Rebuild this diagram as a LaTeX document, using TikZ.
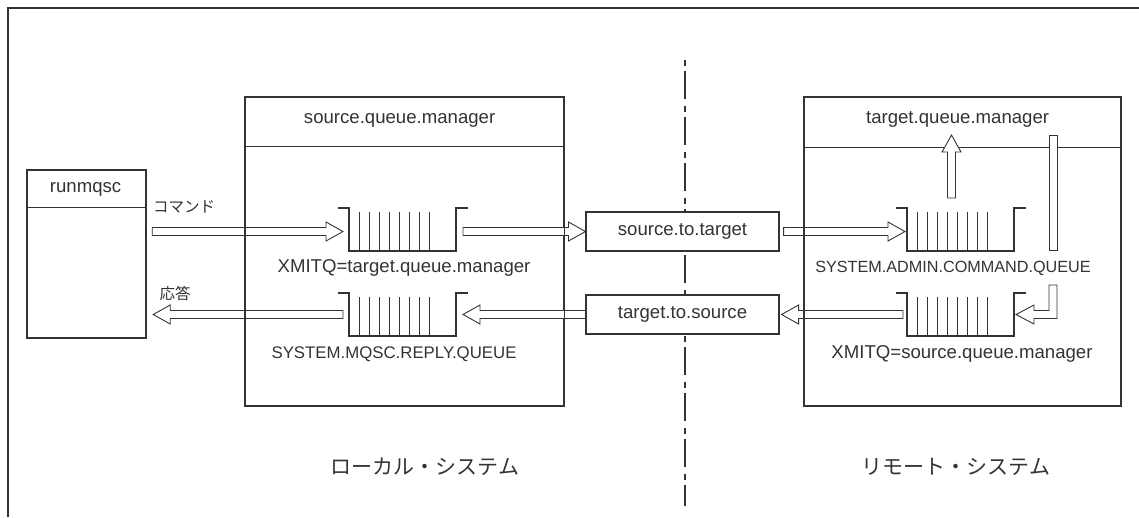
\documentclass[tikz,border=0pt]{standalone}
\usepackage{fontspec}
\setmainfont{Liberation Sans}
\newfontfamily\jpfont{Noto Sans CJK JP}
\usetikzlibrary{calc}

\definecolor{ink}{HTML}{333333}

\tikzset{
  outerframe/.style={draw=ink, line width=1.1pt},
  mgrbox/.style={draw=ink, line width=1.2pt, inner sep=0pt, anchor=north west},
  headrule/.style={draw=ink, line width=1pt},
  chanbox/.style={draw=ink, fill=white, line width=1.1pt, minimum width=193pt,
    minimum height=39pt, inner sep=0pt, text=ink, font=\fontsize{18.6pt}{20pt}\selectfont},
  txt/.style={inner sep=0pt, text=ink, font=\fontsize{18.6pt}{20pt}\selectfont},
  capstxt/.style={inner sep=0pt, text=ink, font=\fontsize{16.5pt}{18pt}\selectfont},
  jptxt/.style={inner sep=0pt, text=ink, font=\jpfont\fontsize{15.5pt}{17pt}\selectfont},
  systxt/.style={inner sep=0pt, text=ink, font=\jpfont\fontsize{21pt}{23pt}\selectfont},
  qwall/.style={draw=ink, line width=1.1pt},
  qslot/.style={draw=ink, line width=0.9pt},
  hollow/.style={draw=ink, fill=white, line width=0.9pt, line join=miter},
  divider/.style={draw=ink, line width=1.1pt, dash pattern=on 6pt off 5pt on 28pt off 7pt},
}

% queue glyph: #1 is the top of its left wall
\newcommand\drawqueue[1]{%
  \draw[qwall] ($(#1)+(-11,0)$) -- (#1) -- ++(0,43) -- ++(107,0) -- ++(0,-43) -- ++(12,0);
  \foreach \k in {0,...,7}{\draw[qslot] ($(#1)+(10+10*\k,4)$) -- ++(0,39);}
}

% hollow block arrow from #1 to the tip #2
\newcommand\hollowarrow[2]{%
  \coordinate (ha-base) at ($(#2)!17pt!(#1)$);
  \filldraw[hollow] ($(#1)!4pt!90:(#2)$) -- ($(ha-base)!4pt!-90:(#1)$)
    -- ($(ha-base)!9.5pt!-90:(#1)$) -- (#2) -- ($(ha-base)!9.5pt!90:(#1)$)
    -- ($(ha-base)!4pt!90:(#1)$) -- ($(#1)!4pt!-90:(#2)$) -- cycle;
}

\begin{document}
\begin{tikzpicture}[x=1pt,y=-1pt]
\useasboundingbox (0,0) rectangle (1139,517);

% outer frame (top and left edges)
\coordinate (fr-bl) at (8,517);
\coordinate (fr-tl) at (8,8);
\coordinate (fr-tr) at (1139,8);
\draw[outerframe] (fr-bl) -- (fr-tl) -- (fr-tr);

% local / remote divider
\coordinate (div-top) at (685,60);
\coordinate (div-bot) at (685,506);
\draw[divider] (div-top) -- (div-bot);

% boxes (outlines drawn later, on top of the arrows)
\path (27,170) node[mgrbox, minimum width=118pt, minimum height=167pt] (runbox) {};
\path (245,97) node[mgrbox, minimum width=318pt, minimum height=308pt] (srcqm) {};
\path (804,97) node[mgrbox, minimum width=316pt, minimum height=308pt] (tgtqm) {};

\draw[headrule] ($(runbox.north west)+(0,37)$) -- ($(runbox.north east)+(0,37)$);
\draw[headrule] ($(srcqm.north west)+(0,49)$) -- ($(srcqm.north east)+(0,49)$);
\draw[headrule] ($(tgtqm.north west)+(0,50)$) -- ($(tgtqm.north east)+(0,50)$);

\node[txt] (runlbl) at ($(runbox.north)+(-1,19)$) {runmqsc};
\node[txt] (srclbl) at ($(srcqm.north)+(-5,23)$) {source.queue.manager};
\node[txt] (tgtlbl) at ($(tgtqm.north)+(-5,22)$) {target.queue.manager};

% channels
\node[chanbox] (s2t) at (682.5,231.5) {source.to.target};
\node[chanbox] (t2s) at (682.5,314.5) {target.to.source};

% queues
\coordinate (lq1) at (349,208);
\coordinate (lq2) at (349,293);
\coordinate (rq1) at (907,208);
\coordinate (rq2) at (907,293);
\drawqueue{lq1}
\drawqueue{lq2}
\drawqueue{rq1}
\drawqueue{rq2}

\node[txt] (lq1lbl) at ($(lq1)+(55,60)$) {XMITQ=target.queue.manager};
\node[capstxt, font=\fontsize{16.8pt}{18pt}\selectfont] (lq2lbl) at ($(lq2)+(45,61)$) {SYSTEM.MQSC.REPLY.QUEUE};
\node[capstxt, font=\fontsize{16.2pt}{18pt}\selectfont] (rq1lbl) at ($(rq1)+(46,60)$) {SYSTEM.ADMIN.COMMAND.QUEUE};
\node[txt] (rq2lbl) at ($(rq2)+(55,61)$) {XMITQ=source.queue.manager};

% arrow end points
\coordinate (a1s) at ($(runbox.east |- s2t)+(6,0)$);
\coordinate (a1e) at ($(lq1 |- s2t)+(-6,0)$);
\coordinate (a2s) at ($(lq1 |- s2t)+(114,0)$);
\coordinate (a3s) at ($(s2t.east)+(4,0)$);
\coordinate (a3e) at ($(rq1 |- s2t)+(-2,0)$);
\coordinate (a4s) at ($(rq1)+(44.5,-10)$);
\coordinate (a4e) at ($(rq1)+(44.5,-73)$);
\coordinate (a7s) at ($(rq2 |- t2s)+(-4,0)$);
\coordinate (a7e) at ($(t2s.east)+(2,0)$);
\coordinate (a8e) at ($(lq2 |- t2s)+(114,0)$);
\coordinate (a9s) at ($(lq2 |- t2s)+(-6,0)$);
\coordinate (a9e) at ($(runbox.east |- t2s)+(7,0)$);

\hollowarrow{a1s}{a1e}
\hollowarrow{a2s}{s2t.west}
\hollowarrow{a3s}{a3e}
\hollowarrow{a4s}{a4e}
\hollowarrow{a7s}{a7e}
\hollowarrow{t2s.west}{a8e}
\hollowarrow{a9s}{a9e}

% command server: bar out of the command queue and the bent return into the XMITQ
\filldraw[hollow] ($(rq1)+(142,-73)$) rectangle ($(rq1)+(150,42)$);
\filldraw[hollow] ($(rq2)+(142,-8)$) -- ($(rq2)+(150,-8)$) -- ($(rq2)+(150,25.5)$)
  -- ($(rq2)+(127,25.5)$) -- ($(rq2)+(127,31)$) -- ($(rq2)+(109,21.5)$)
  -- ($(rq2)+(127,12)$) -- ($(rq2)+(127,17.5)$) -- ($(rq2)+(142,17.5)$) -- cycle;

% box outlines over the arrows
\draw[mgrbox] (runbox.north west) rectangle (runbox.south east);
\draw[mgrbox] (srcqm.north west) rectangle (srcqm.south east);
\draw[mgrbox] (tgtqm.north west) rectangle (tgtqm.south east);

% arrow captions and system names
\node[jptxt] (cmdlbl) at (184,207) {コマンド};
\node[jptxt] (replbl) at (175,293) {応答};
\node[systxt] (locsys) at (425,467) {ローカル・システム};
\node[systxt] (remsys) at (956,467) {リモート・システム};
\end{tikzpicture}
\end{document}
